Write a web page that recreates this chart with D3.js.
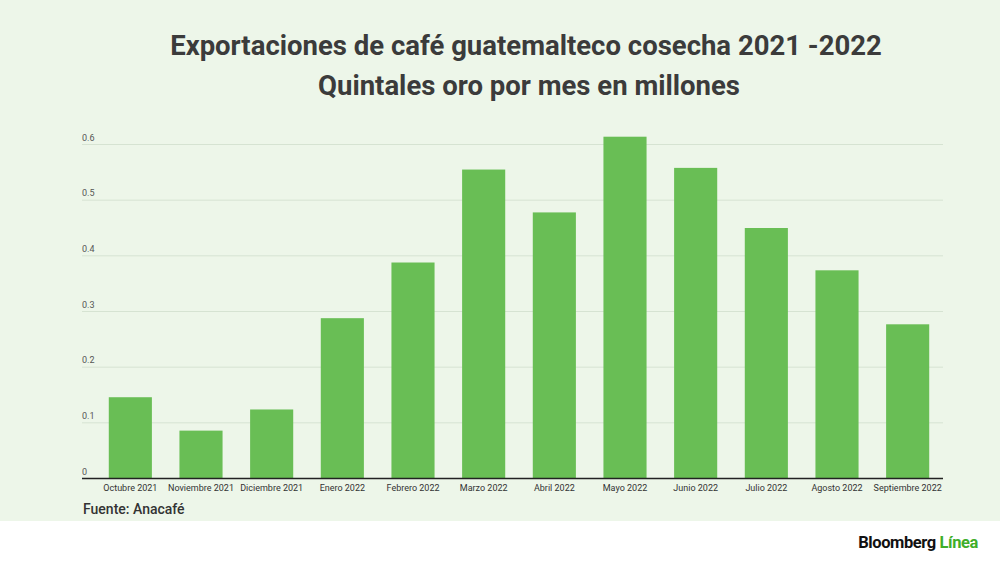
<!DOCTYPE html>
<html>
<head>
<meta charset="utf-8">
<script src="https://cdn.jsdelivr.net/npm/d3@7"></script>
<style>
  body { margin: 0; background: #fff; }
  svg { display: block; font-family: Roboto, "Noto Sans", sans-serif; }
</style>
</head>
<body>
<div id="chart"></div>
<script>
// chart data
let months = ['Octubre 2021', 'Noviembre 2021', 'Diciembre 2021', 'Enero 2022', 'Febrero 2022', 'Marzo 2022',
              'Abril 2022', 'Mayo 2022', 'Junio 2022', 'Julio 2022', 'Agosto 2022', 'Septiembre 2022'];
let quintales = [0.146, 0.086, 0.124, 0.288, 0.388, 0.555, 0.478, 0.614, 0.558, 0.450, 0.374, 0.277];
let yTicks = [0, 0.1, 0.2, 0.3, 0.4, 0.5, 0.6];

let config = {
    width: 1000, height: 562,
    plot: { left: 82, right: 943, top: 144.5, bottom: 478.5 },
    bandLeft: 95, bandRight: 943
};

let svg = d3.select('#chart')
    .append('svg')
        .attr('width', config.width)
        .attr('height', config.height);

// green panel
svg.append('rect')
    .attr('width', config.width)
    .attr('height', 521)
    .attr('fill', '#edf6e9');

// titles
svg.append('text')
    .attr('x', 526).attr('y', 55)
    .attr('text-anchor', 'middle')
    .style('font-size', '27.5px').style('font-weight', 700)
    .attr('fill', '#3b3b3b')
    .text('Exportaciones de café guatemalteco cosecha 2021 -2022');

svg.append('text')
    .attr('x', 529).attr('y', 95)
    .attr('text-anchor', 'middle')
    .style('font-size', '27.5px').style('font-weight', 700)
    .attr('fill', '#3b3b3b')
    .text('Quintales oro por mes en millones');

let x = d3.scaleBand()
    .domain(months)
    .range([config.bandLeft, config.bandRight])
    .paddingInner(0.39)
    .paddingOuter(0.195);

let y = d3.scaleLinear()
    .domain([0, 0.6])
    .range([config.plot.bottom, config.plot.top]);

let plot = svg.append('g').attr('id', 'plot');

// gridlines
plot.selectAll('.grid')
    .data(yTicks.slice(1))
    .enter()
    .append('line')
        .attr('class', 'grid')
        .attr('x1', config.plot.left)
        .attr('x2', config.plot.right)
        .attr('y1', (d) => y(d))
        .attr('y2', (d) => y(d))
        .attr('stroke', '#d6e3d2')
        .attr('stroke-width', 1);

// y labels
plot.selectAll('.ylab')
    .data(yTicks)
    .enter()
    .append('text')
        .attr('class', 'ylab')
        .attr('x', config.plot.left)
        .attr('y', (d) => y(d) - 4)
        .style('font-size', '9px')
        .attr('fill', '#555')
        .text((d) => d === 0 ? '0' : d3.format('.1f')(d));

// bars
plot.selectAll('.bar')
    .data(months)
    .enter()
    .append('rect')
        .attr('class', 'bar')
        .attr('x', (d) => x(d))
        .attr('y', (d, i) => y(quintales[i]))
        .attr('width', x.bandwidth())
        .attr('height', (d, i) => y(0) - y(quintales[i]))
        .attr('fill', '#69be55');

// x axis
let xAxis = plot.append('g')
    .attr('transform', translate(0, config.plot.bottom))
    .call(d3.axisBottom(x).tickSize(0).tickPadding(6));
xAxis.select('.domain').remove();
xAxis.append('line')
    .attr('x1', config.plot.left).attr('x2', config.plot.right)
    .attr('stroke', '#222').attr('stroke-width', 1.3);
xAxis.selectAll('text')
    .style('font-size', '9px')
    .style('font-family', 'Roboto, sans-serif')
    .attr('fill', '#333');

// source
svg.append('text')
    .attr('x', 83).attr('y', 514)
    .style('font-size', '14px').style('font-weight', 500)
    .attr('fill', '#333')
    .text('Fuente: Anacafé');

// logo
let logo = svg.append('text')
    .attr('x', 978).attr('y', 548)
    .attr('text-anchor', 'end')
    .style('font-size', '16.5px').style('font-weight', 700)
    .style('letter-spacing', '-0.4px');
logo.append('tspan').attr('fill', '#111').text('Bloomberg ');
logo.append('tspan').attr('fill', '#3fae2a').text('Línea');

// helper method to make translating easier
function translate(x, y) {
    return 'translate(' + x + ',' + y + ')';
}
</script>
</body>
</html>
